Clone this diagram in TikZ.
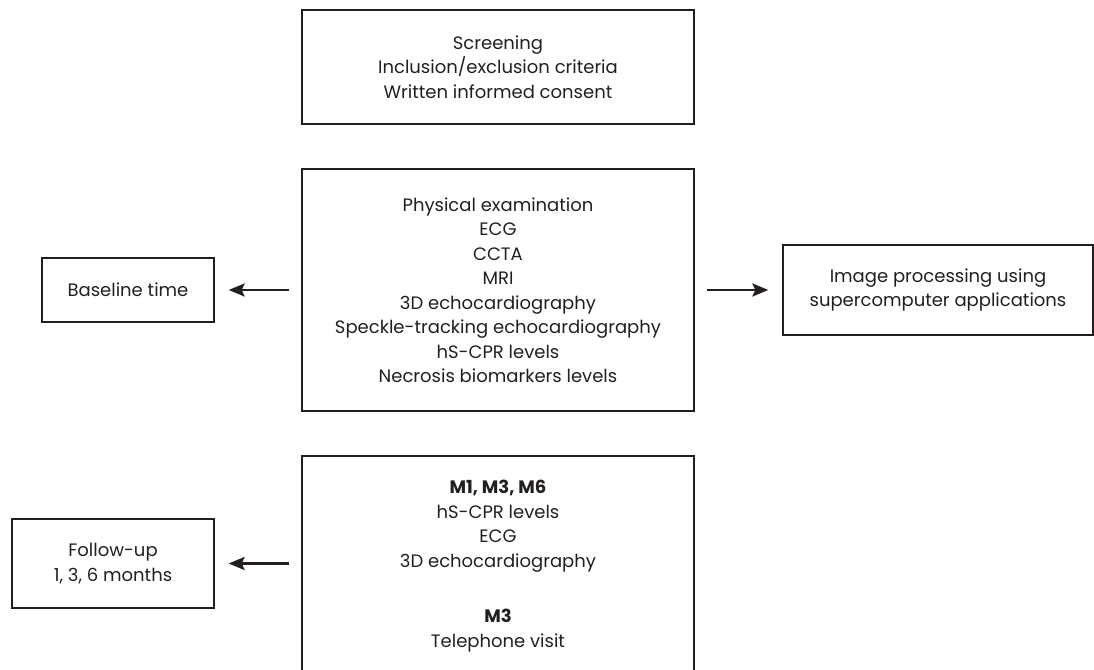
\documentclass[tikz,border=0pt]{standalone}
\usepackage{fontspec}
\setmainfont{Poppins}
\usetikzlibrary{arrows.meta}
\definecolor{ink}{HTML}{231F20}
\begin{document}
\begin{tikzpicture}[x=1pt,y=-1pt,
  box/.style={draw=ink, line width=1.3pt, inner sep=0pt, align=center, text=ink,
    font=\fontsize{18}{24.5}\selectfont},
  arr/.style={draw=ink, line width=2.6pt, -{Stealth[length=16pt,width=13pt,inset=3pt]},
    shorten <=12pt, shorten >=14pt}]
\useasboundingbox (0,0) rectangle (1094,669);
\node[box, minimum width=392pt, minimum height=114pt] (scr) at (498,67)
  {Screening\\Inclusion/exclusion criteria\\Written informed consent};
\node[box, minimum width=392pt, minimum height=242pt] (mid) at (498,290)
  {Physical examination\\ECG\\CCTA\\MRI\\3D echocardiography\\Speckle-tracking echocardiography\\hS-CPR levels\\Necrosis biomarkers levels};
\node[box, minimum width=392pt, minimum height=220pt] (bot) at (498,566)
  {\textbf{M1, M3, M6}\\hS-CPR levels\\ECG\\3D echocardiography\\[31pt]\textbf{M3}\\Telephone visit};
\node[box, minimum width=172pt, minimum height=64pt] (base) at (128,290) {Baseline time};
\node[box, minimum width=310pt, minimum height=90pt] (img) at (938,290)
  {Image processing using\\supercomputer applications};
\node[box, minimum width=202pt, minimum height=89pt] (fu) at (113,563.5)
  {Follow-up\\1, 3, 6 months};
\draw[arr] (mid.west) -- (base.east);
\draw[arr] (mid.east) -- (img.west);
\draw[arr] (bot.west |- fu.east) -- (fu.east);
\end{tikzpicture}
\end{document}
